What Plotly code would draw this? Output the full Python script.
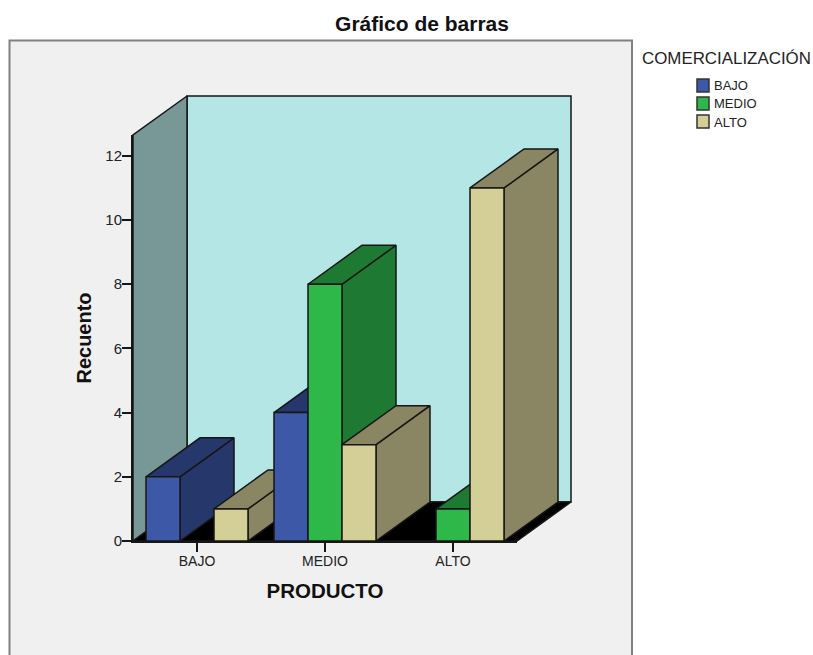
import plotly.graph_objects as go

# Counts of PRODUCTO split by COMERCIALIZACIÓN
categories = ["BAJO", "MEDIO", "ALTO"]
series_names = ["BAJO", "MEDIO", "ALTO"]
bajo_values = [2, 4, 0]
medio_values = [0, 8, 1]
alto_values = [1, 3, 11]
y_ticks = [0, 2, 4, 6, 8, 10, 12]

series_values = [bajo_values, medio_values, alto_values]
front_colors = ["#3E58A8", "#2FB84A", "#D3CF96"]
shade_colors = ["#26386B", "#1E7A32", "#8A8663"]

W, H = 813, 655
LEFT, RIGHT, TOP, BOTTOM = 133, 517, 135, 541
Y_MAX = 12.65
X0, X1 = -0.5, 2.5
UNIT_X = (RIGHT - LEFT) / (X1 - X0)
UNIT_Y = (BOTTOM - TOP) / Y_MAX
# Oblique projection of the depth axis, in axis units
DX = 54 / UNIT_X
DY = 39 / UNIT_Y
BAR_W = 34 / UNIT_X
EDGE = "#161616"


def face(points, fill, name=""):
    xs = [p[0] for p in points] + [points[0][0]]
    ys = [p[1] for p in points] + [points[0][1]]
    return go.Scatter(
        x=xs, y=ys, mode="lines", fill="toself", fillcolor=fill,
        line=dict(color=EDGE, width=1.5),
        showlegend=False, hoverinfo="skip", name=name,
    )


fig = go.Figure()

# Chart box: back wall, side wall and floor
fig.add_trace(face([(X0 + DX, DY), (X1 + DX, DY), (X1 + DX, Y_MAX + DY), (X0 + DX, Y_MAX + DY)], "#B5E6E6", "pared"))
fig.add_trace(face([(X0, 0), (X0, Y_MAX), (X0 + DX, Y_MAX + DY), (X0 + DX, DY)], "#789898", "lateral"))
fig.add_trace(face([(X0, 0), (X1, 0), (X1 + DX, DY), (X0 + DX, DY)], "#000000", "suelo"))

# Bars painted left to right so nearer sides cover the ones behind
for c, _ in enumerate(categories):
    for s, values in enumerate(series_values):
        v = values[c]
        if v == 0:
            continue
        x0 = c + (s - 1.5) * BAR_W
        x1 = x0 + BAR_W
        fig.add_trace(face([(x1, 0), (x1 + DX, DY), (x1 + DX, v + DY), (x1, v)], shade_colors[s], series_names[s]))
        fig.add_trace(face([(x0, v), (x1, v), (x1 + DX, v + DY), (x0 + DX, v + DY)], shade_colors[s], series_names[s]))
        fig.add_trace(face([(x0, 0), (x1, 0), (x1, v), (x0, v)], front_colors[s], series_names[s]))

# Keeps the labelled axes alive; they overlay the page-wide drawing scale
fig.add_trace(go.Scatter(x=[None], y=[None], xaxis="x2", yaxis="y2", showlegend=False, hoverinfo="skip"))

shapes = [
    dict(type="rect", xref="paper", yref="paper", layer="below",
         x0=9.5 / W, x1=632 / W, y0=-0.02, y1=1 - 40.5 / H,
         fillcolor="#F0F0F0", line=dict(color="#808080", width=2)),
]
annotations = [
    dict(text="COMERCIALIZACIÓN", x=640 / W, y=1 - 58 / H, xanchor="left", yanchor="middle",
         font=dict(size=16.9, color="#222222")),
]
# Legend keys
for i, name in enumerate(series_names):
    cy = 85.5 + i * 18
    shapes.append(dict(type="rect", xref="paper", yref="paper",
                       x0=697 / W, x1=709 / W, y0=1 - (cy + 6.5) / H, y1=1 - (cy - 6.5) / H,
                       fillcolor=front_colors[i], line=dict(color="#333333", width=1.5)))
    annotations.append(dict(text=name, x=711.5 / W, y=1 - (cy + 0.5) / H, xanchor="left", yanchor="middle",
                            font=dict(size=13, color="#222222")))
for a in annotations:
    a.update(xref="paper", yref="paper", showarrow=False)

hidden = dict(visible=False, domain=[0, 1], fixedrange=True)
fig.update_layout(
    width=W, height=H, autosize=False,
    margin=dict(l=0, r=0, t=0, b=0, autoexpand=False),
    paper_bgcolor="white", plot_bgcolor="rgba(0,0,0,0)",
    font=dict(family="Liberation Sans, Arial, sans-serif", color="#222222"),
    showlegend=False,
    shapes=shapes, annotations=annotations,
    title=dict(text="Gráfico de barras", x=422 / W, xanchor="center", y=1 - 24 / H, yanchor="middle",
               font=dict(size=21, weight=700, color="#111111")),
    # Page-wide scale the bars are drawn on, aligned with the labelled axes
    xaxis=dict(hidden, range=[X0 - LEFT / UNIT_X, X0 + (W - LEFT) / UNIT_X]),
    yaxis=dict(hidden, range=[-(H - BOTTOM) / UNIT_Y, BOTTOM / UNIT_Y]),
    xaxis2=dict(
        domain=[LEFT / W, RIGHT / W], range=[X0, X1], anchor="y2",
        tickmode="array", tickvals=list(range(len(categories))), ticktext=categories,
        ticks="outside", ticklen=9, tickwidth=1.5, tickcolor=EDGE,
        showline=True, linecolor=EDGE, linewidth=2, showgrid=False, zeroline=False,
        tickfont=dict(size=14, color="#222222"), ticklabelstandoff=-3,
        title=dict(text="PRODUCTO", standoff=16, font=dict(size=20.5, weight=700, color="#111111")),
    ),
    yaxis2=dict(
        domain=[1 - BOTTOM / H, 1 - TOP / H], range=[0, Y_MAX], anchor="x2",
        tickmode="array", tickvals=y_ticks,
        ticks="outside", ticklen=9, tickwidth=1.5, tickcolor=EDGE,
        showline=True, linecolor=EDGE, linewidth=2, showgrid=False, zeroline=False,
        tickfont=dict(size=15, color="#222222"), ticklabelstandoff=-3,
        title=dict(text="Recuento", standoff=8, font=dict(size=20, weight=700, color="#111111")),
    ),
)

fig.write_html("out.html", config=dict(displayModeBar=False))
